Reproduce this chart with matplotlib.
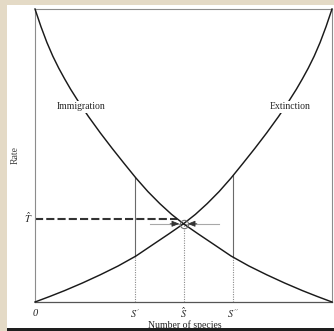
import matplotlib
matplotlib.use("Agg")
import matplotlib.pyplot as plt
import numpy as np
from matplotlib.patches import Rectangle

plt.rcParams["font.family"] = ["Liberation Serif", "DejaVu Serif"]
plt.rcParams["mathtext.fontset"] = "stix"

# immigration rate vs number of species resident (pool size P = 100)
species_imm = [0, 2, 4, 6, 8, 10, 12, 15, 18, 22, 26, 30, 34, 38, 42, 46,
               50, 55, 60, 66, 72, 78, 84, 90, 95, 100]
rate_imm = [100, 94.0, 88.6, 83.9, 79.8, 76.1, 72.6, 67.8, 63.3, 57.7, 52.4,
            47.3, 42.3, 37.7, 33.6, 29.9, 26.7, 23.2, 19.8, 15.7, 12.3, 9.3,
            6.5, 3.9, 1.9, 0]

# extinction rate vs number of species resident
species_ext = [0, 5, 10, 16, 22, 28, 34, 40, 45, 50, 54, 58, 62, 66, 70, 74,
               78, 82, 85, 88, 90, 92, 94, 96, 98, 100]
rate_ext = [0, 1.9, 3.9, 6.5, 9.3, 12.3, 15.7, 19.8, 23.2, 26.7, 29.9, 33.6,
            37.7, 42.3, 47.3, 52.4, 57.7, 63.3, 67.8, 72.6, 76.1, 79.8, 83.9,
            88.6, 94.0, 100]

s_prime, s_hat, s_dprime, s_pool = 33.7, 50.0, 66.7, 100
t_hat = 28.3
tick_pos = [0, s_prime, s_hat, s_dprime]
tick_labels = ["0", "$S'$", r"$\hat{S}$", "$S''$"]

W, H = 334, 331
INK = "#262626"


def fx(x):
    return x / W


def fy(y):
    return 1 - y / H


def imm_at(s):
    return float(np.interp(s, species_imm, rate_imm))


def ext_at(s):
    return float(np.interp(s, species_ext, rate_ext))


fig = plt.figure(figsize=(W / 100, H / 100), dpi=100, facecolor="#e4dac6")

# page area and the dark edge along the bottom
fig.patches.append(Rectangle((fx(7), fy(327.5)), 1 - fx(7), fy(4.5) - fy(327.5),
                             transform=fig.transFigure, facecolor="white",
                             edgecolor="none", zorder=-1))
fig.patches.append(Rectangle((fx(7), fy(331)), 1 - fx(7), fy(327.5) - fy(331),
                             transform=fig.transFigure, facecolor="#1e1e1e",
                             edgecolor="none", zorder=5))

ax = fig.add_axes([fx(35), fy(302), fx(332) - fx(35), fy(9) - fy(302)])
ax.set_facecolor("none")
ax.set_xlim(0, s_pool)
ax.set_ylim(0, 100)
ax.set_xticks([])
ax.set_yticks([])
for side in ["left", "top", "right"]:
    ax.spines[side].set_color("#8c8c8c")
    ax.spines[side].set_linewidth(0.8)
ax.spines["bottom"].set_color("#555555")
ax.spines["bottom"].set_linewidth(0.9)

ax.plot(species_imm, rate_imm, color="#1a1a1a", lw=1.05, clip_on=False, zorder=3)
ax.plot(species_ext, rate_ext, color="#1a1a1a", lw=1.05, clip_on=False, zorder=3)

dot = (0, (1, 1.2))
# S': immigration above extinction
ax.plot([s_prime] * 2, [ext_at(s_prime), imm_at(s_prime)], color="#6a6a6a", lw=0.8)
ax.plot([s_prime] * 2, [0, ext_at(s_prime)], color="#8a8a8a", lw=0.8, ls=dot)
# S'': extinction above immigration
ax.plot([s_dprime] * 2, [imm_at(s_dprime), ext_at(s_dprime)], color="#6a6a6a", lw=0.8)
ax.plot([s_dprime] * 2, [0, imm_at(s_dprime)], color="#8a8a8a", lw=0.8, ls=dot)

# equilibrium
r_eq = imm_at(s_hat)
ax.plot([s_hat] * 2, [0, r_eq], color="#8a8a8a", lw=0.8, ls=dot)
ax.plot([0, 47.7], [t_hat] * 2, color="#333333", lw=1.5, ls=(0, (3.9, 1.5)))
ax.plot([38.7, 62.0], [r_eq] * 2, color="#a8a8a8", lw=0.8)
ax.plot(s_hat, r_eq, "o", ms=6, mfc="none", mec="#707070", mew=0.8, zorder=4)
for tail, tip in [(45.5, 48.6), (54.5, 51.4)]:
    ax.annotate("", xy=(tip, r_eq), xytext=(tail, r_eq),
                arrowprops=dict(arrowstyle="-|>,head_length=0.45,head_width=0.18",
                                color="#333333", lw=0.6, shrinkA=0, shrinkB=0))

# curve labels
box = dict(facecolor="white", edgecolor="none", pad=1.2)
ax.text(15.5, 66.6, "Immigration", fontsize=7, color=INK, ha="center",
        va="center", bbox=box, zorder=5)
ax.text(85.9, 66.6, "Extinction", fontsize=7, color=INK, ha="center",
        va="center", bbox=box, zorder=5)

# species axis labels
for pos, lab in zip(tick_pos, tick_labels):
    style = "italic" if lab == "0" else "normal"
    ax.text(pos, -3.8, lab, fontsize=7.5, color=INK, ha="center", va="center",
            style=style, clip_on=False)
ax.text(s_pool + 0.3, -3.8, "$P$", fontsize=7.5, color=INK, ha="left",
        va="center", clip_on=False)
ax.text(-2.4, t_hat + 0.5, r"$\hat{T}$", fontsize=7.5, color=INK, ha="center",
        va="center", clip_on=False)

fig.text(fx(185), fy(325), "Number of species", fontsize=7, color=INK,
         ha="center", va="center", zorder=3)
fig.text(fx(15), fy(155), "Rate", fontsize=7, color="#444444", rotation=90,
         ha="center", va="center")

fig.savefig("out.png", dpi=100, facecolor=fig.get_facecolor())
